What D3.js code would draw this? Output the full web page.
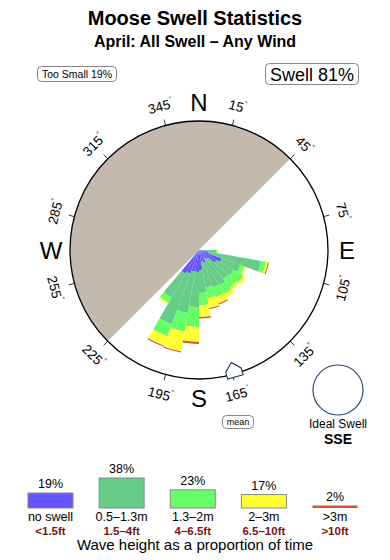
<!DOCTYPE html>
<html>
<head>
<meta charset="utf-8">
<script src="https://cdn.jsdelivr.net/npm/d3@7"></script>
<style>
  body { margin: 0; background: #fff; }
  text { font-family: "Liberation Sans", Arial, Helvetica, sans-serif; }
</style>
</head>
<body>
<svg id="chart" width="390" height="560"></svg>
<script>
// direction bins (bin centre, 10 degrees wide)
var directions = [95, 105, 115, 125, 135, 145, 155, 165, 175, 185, 195, 205, 215];
// share of time per bin for each height band (% of time)
var noSwell  = [0.3, 1.0, 2.4, 2.0, 1.2, 1.0, 1.4, 1.2, 2.0, 2.2, 2.2, 2.5, 2.7];
var small    = [1.4, 5.3, 2.0, 2.0, 2.6, 3.1, 2.6, 2.6, 2.3, 3.5, 4.2, 5.4, 2.8];
var medium   = [0.1, 0.5, 0.4, 1.1, 1.1, 1.0, 1.0, 1.1, 1.2, 2.0, 1.9, 1.3, 0.6];
var large    = [0.1, 0.2, 0.2, 0.3, 0.3, 0.4, 0.7, 1.0, 1.2, 1.5, 2.0, 1.0, 0.2];
var huge     = [0.0, 0.1, 0.0, 0.0, 0.0, 0.0, 0.1, 0.1, 0.15, 0.2, 0.1, 0.1, 0.0];

var bandKeys = ["noSwell", "small", "medium", "large", "huge"];
var bandColors = ["#6655ff", "#66cc88", "#66ff66", "#ffff33", "#d2572f"];

var tickBearings = [15, 45, 75, 105, 135, 165, 195, 225, 255, 285, 315, 345];
var cardinals = [["N", 0], ["E", 90], ["S", 180], ["W", 270]];
var shadowFrom = 225, shadowTo = 405;   // land / shadowed sector
var meanDir = 164;

var legendPct = [19, 38, 23, 17, 2];
var legendMetres = ["no swell", "0.5\u20131.3m", "1.3\u20132m", "2\u20133m", ">3m"];
var legendFeet = ["<1.5ft", "1.5\u20134ft", "4\u20136.5ft", "6.5\u201310ft", ">10ft"];

var svg = d3.select("#chart");
var cx = 199, cy = 250, R = 129;
var rad = Math.PI / 180;

function polar(bearing, r) {
    return [cx + r * Math.sin(bearing * rad), cy - r * Math.cos(bearing * rad)];
}

// titles
svg.append("text").attr("x", 195).attr("y", 25).attr("text-anchor", "middle")
    .style("font-size", "20px").style("font-weight", "bold").text("Moose Swell Statistics");
svg.append("text").attr("x", 195).attr("y", 47).attr("text-anchor", "middle")
    .style("font-size", "16px").style("font-weight", "bold").text("April: All Swell \u2013 Any Wind");

function labelBox(x, y, w, h, txt, size, baseline) {
    svg.append("rect").attr("x", x).attr("y", y).attr("width", w).attr("height", h)
        .attr("rx", 4).attr("fill", "#fff").attr("stroke", "#666").attr("stroke-width", 0.8);
    svg.append("text").attr("x", x + w / 2).attr("y", baseline).attr("text-anchor", "middle")
        .style("font-size", size + "px").text(txt);
}
labelBox(37.5, 66.5, 79, 15, "Too Small 19%", 10.5, 77.5);
labelBox(265.5, 63.5, 93, 21, "Swell 81%", 18, 81);

// rose
var g = svg.append("g").attr("transform", "translate(" + cx + "," + cy + ")");
var r = d3.scaleLinear().domain([0, 12.9]).range([0, R]);

g.append("path")
    .attr("d", d3.arc()({innerRadius: 0, outerRadius: R, startAngle: shadowFrom * rad, endAngle: shadowTo * rad}))
    .attr("fill", "#c4b9ad");

var rows = directions.map(function(d, i) {
    return {dir: d, noSwell: noSwell[i], small: small[i], medium: medium[i], large: large[i], huge: huge[i]};
});
var stacked = d3.stack().keys(bandKeys)(rows);
var arc = d3.arc();

stacked.forEach(function(layer, k) {
    g.selectAll(null).data(layer).enter().append("path")
        .attr("d", function(d) {
            return arc({innerRadius: r(d[0]), outerRadius: r(d[1]),
                startAngle: (d.data.dir - 5) * rad, endAngle: (d.data.dir + 5) * rad});
        })
        .attr("fill", bandColors[k]);
});

g.append("circle").attr("r", R).attr("fill", "none").attr("stroke", "#000").attr("stroke-width", 1.3);

tickBearings.forEach(function(b) {
    var p1 = polar(b, R), p2 = polar(b, R + 6), lp = polar(b, 149);
    svg.append("line").attr("x1", p1[0]).attr("y1", p1[1]).attr("x2", p2[0]).attr("y2", p2[1])
        .attr("stroke", "#000").attr("stroke-width", 0.8);
    var rot = (b < 90 || b > 270) ? (b > 180 ? b - 360 : b) : b - 180;
    var t = svg.append("text").attr("text-anchor", "middle").attr("dominant-baseline", "central")
        .attr("transform", "translate(" + lp[0] + "," + lp[1] + ") rotate(" + rot + ")")
        .style("font-size", "13.5px");
    t.append("tspan").text(b);
    t.append("tspan").attr("dy", -5).style("font-size", "7px").text("\u00b0");
});

cardinals.forEach(function(c) {
    var p = polar(c[1], 148);
    svg.append("text").attr("x", p[0]).attr("y", p[1]).attr("text-anchor", "middle")
        .attr("dominant-baseline", "central").style("font-size", "24px").text(c[0]);
});

// mean direction marker
var house = [[-8, 3], [8, 3], [8, -4], [0, -12], [-8, -4]].map(function(q) {
    // q[0] tangential offset, q[1] radial offset (negative = inward)
    var base = polar(meanDir, R + q[1]);
    var tx = Math.cos(meanDir * rad), ty = Math.sin(meanDir * rad);
    return [base[0] + q[0] * tx, base[1] + q[0] * ty];
});
svg.append("path").attr("d", d3.line()(house) + "Z")
    .attr("fill", "#fff").attr("stroke", "#1f3550").attr("stroke-width", 1.1);
labelBox(222.5, 415.5, 31, 13, "mean", 9, 425);

// ideal swell
svg.append("circle").attr("cx", 338).attr("cy", 390).attr("r", 25)
    .attr("fill", "none").attr("stroke", "#2d4b6e").attr("stroke-width", 1.2);
svg.append("text").attr("x", 338).attr("y", 428).attr("text-anchor", "middle")
    .style("font-size", "12px").text("Ideal Swell");
svg.append("text").attr("x", 338).attr("y", 444).attr("text-anchor", "middle")
    .style("font-size", "14px").style("font-weight", "bold").text("SSE");

// legend
var lx = d3.scalePoint().domain(d3.range(legendPct.length)).range([50.5, 335]);
var lh = d3.scaleLinear().domain([0, 38]).range([0, 30]);
var legBase = 508, legW = 45;

legendPct.forEach(function(p, i) {
    var x = lx(i), h = lh(p);
    if (i < legendPct.length - 1) {
        svg.append("rect").attr("x", x - legW / 2).attr("y", legBase - h).attr("width", legW).attr("height", h)
            .attr("fill", bandColors[i]).attr("stroke", "#888").attr("stroke-width", 1);
    } else {
        svg.append("rect").attr("x", x - legW / 2).attr("y", legBase - 2.5).attr("width", legW).attr("height", Math.max(h, 2.5))
            .attr("fill", bandColors[i]);
    }
    svg.append("text").attr("x", x).attr("y", legBase - h - 5).attr("text-anchor", "middle")
        .style("font-size", "12.5px").text(p + "%");
    svg.append("text").attr("x", x).attr("y", 521).attr("text-anchor", "middle")
        .style("font-size", "12.5px").text(legendMetres[i]);
    svg.append("text").attr("x", x).attr("y", 534.5).attr("text-anchor", "middle")
        .style("font-size", "11.5px").style("font-weight", "bold").attr("fill", "#7a1414").text(legendFeet[i]);
});

svg.append("text").attr("x", 195).attr("y", 550).attr("text-anchor", "middle")
    .style("font-size", "15px").text("Wave height as a proportion of time");
</script>
</body>
</html>
